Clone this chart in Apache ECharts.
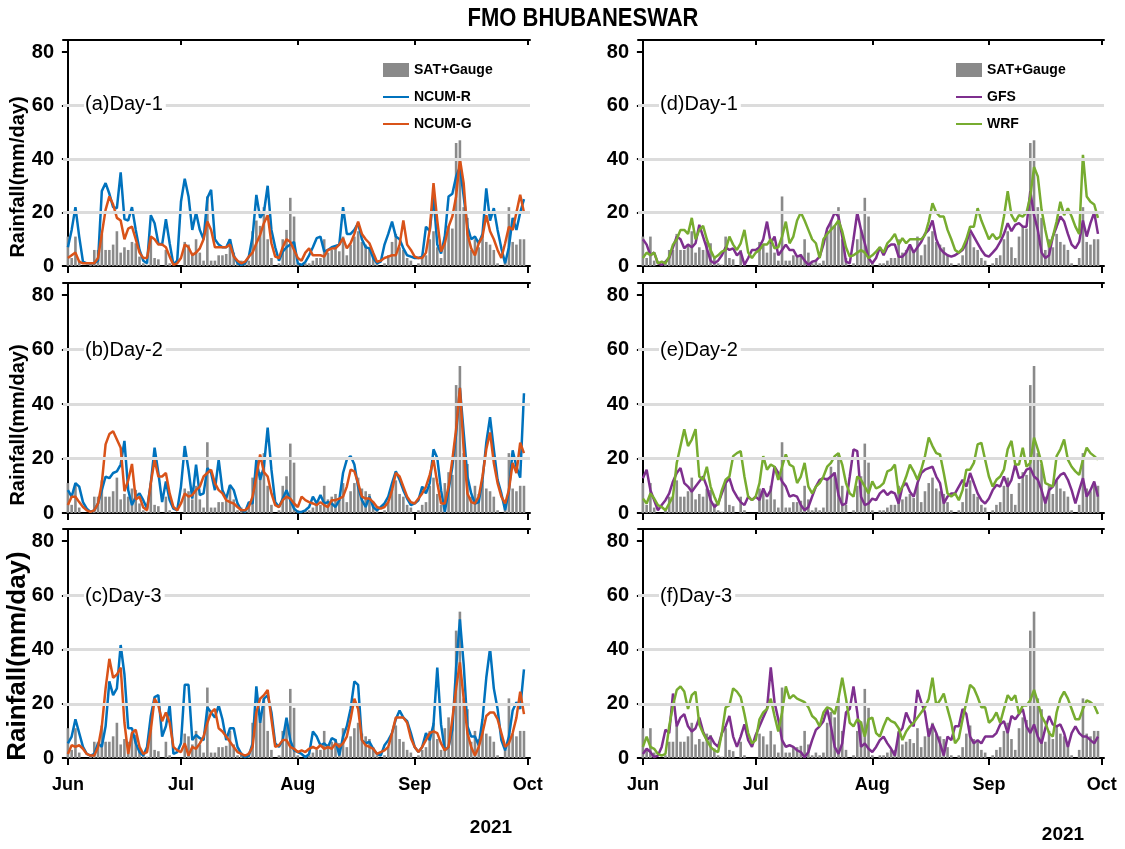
<!DOCTYPE html>
<html>
<head>
<meta charset="utf-8">
<title>FMO BHUBANESWAR</title>
<script src="https://cdn.jsdelivr.net/npm/echarts@6/dist/echarts.min.js"></script>
<style>
  html, body { margin: 0; padding: 0; background: #fff; }
  #chart { width: 1125px; height: 849px; }
</style>
</head>
<body>
<div id="chart"></div>
<script>
// Daily rainfall (mm/day), 1 Jun – 30 Sep 2021; index 0 = 1 June.
const monthTicks = [0, 30, 61, 92, 122];
const monthLabels = ['Jun', 'Jul', 'Aug', 'Sep', 'Oct'];
const yTicks = [0, 20, 40, 60, 80];
const yearLabel = '2021';

// Satellite + gauge merged observations
const obsDay1 = [11,3,11,2,0,0,1,6,6,12, 6,6,8,13,5,7,6,9,8.5,3.5, 1,0.5,11,3,2.5,0,6,1,0,0,
  0,9,8,5,10,5,2,26,2,2, 4,4,4.5,10,5,1,2,1,2,13, 17,15,22,10,3,0,1,10,13.5,25.5, 18.5,
  1,0,1,1,2,3,3,10,5, 6,7,5.5,11,4,8,11,13,9,8, 7,4,1,0,1,4,9,12,7,6, 3,2,
  0,1,3,4,10,13,7,3,11,15, 14,46,47,22,18,6,10,7,12,9, 8,6,1,0,3,22,9,8,10,10];
const obsDay23 = [11,3,11,2,0,0,1,6,6,12, 6,6,8,13,5,7,6,9,8.5,3.5, 1,0.5,11,3,2.5,0,6,1,0,0,
  0,9,8,5,10,5,2,26,2,2, 4,4,4.5,10,5,1,2,1,2,13, 17,15,22,10,3,0,1,10,13.5,25.5, 18.5,
  1,0,1,1,2,3,3,10,5, 6,7,5.5,11,4,8,11,13,9,8, 7,4,1,0,1,4,9,12,7,6, 3,2,
  0,1,3,4,10,13,7,3,11,15, 14,47,54,22,18,6,10,7,12,9, 8,6,1,0,3,22,9,8,10,10];

// NCUM-R forecasts
const ncumRDay1 = [7,13.5,22,11,1.6,1,1,1,2,28, 31,27,22,21.6,35,17.5,17,22,13.5,6,
  2,1,19,16,8.5,8,17.5,8.5,0.5,2, 24,32.6,26,13.5,20,13.5,10,25.4,28.5,10,
  8,7,7,10,4,1,0.4,1,3.5,11, 26.6,18,20,30,13.5,7,2,5.4,7,8,
  9,1,0.4,1.5,4,7,10.4,11,5.4,6, 7,7.5,8,22,12,12,13.5,16,10,7,
  6.6,3,1,1.6,8,12,16.6,11,10,6.6, 4,3.5,3,3,3.5,14.7,13,26,8,4.7,
  11,26,27,33.5,37,26,14.7,10,11,8.5, 12,29,17,21.6,13.5,6.6,1,7,18,13.5, 20,25];
const ncumRDay2 = [8.4,6,11,9.7,4,1.6,0.4,1,3.5,8.4, 13.4,12.8,14.7,15.3,17.8,26.5,8.4,2.9,6,7.2,
  4.7,1.6,11,24,14.7,4,11.6,4.7,1.6,1, 9.7,24.6,15.9,5.3,17.8,6.6,7.2,16.5,14.7,8.4,
  19.6,8.4,5.3,10.3,8.4,3.5,1,0.4,4,3.5, 19.6,12.2,17,31.4,15.9,4,2.2,5.3,8.4,4.7,
  1.6,0.4,0.4,1,2.2,6,3.5,6.6,3.5,4, 3.5,2.2,4.7,14.7,19.6,20.9,17.8,9.7,4.7,2.2,
  6,2.2,1,2.2,3.5,6,11,15.3,12.2,8.4, 5.3,2.9,3.5,4.7,9.7,7.2,11,23.4,20.2,8.4,
  0.4,8.4,17,29,46,29.6,13.4,7.2,3.5,4, 12.2,25.8,35.2,23.4,12.2,7.2,1,8,23,17, 13,44];
const ncumRDay3 = [5.4,7.9,14.3,9.2,4.1,1.5,0.9,1.5,5.4,4.1, 11.7,28.3,23.2,25.7,41.7,30.8,11,11,5.4,2.2,
  0.9,4.1,15.5,22.5,23.2,7.9,11.7,19.4,1.5,2.2, 5.4,27,27,6.6,8.5,7.3,6.6,18.7,16.8,14.9,
  19.4,14.3,6.6,11,11,4.1,1.5,0.3,0.9,5.4, 26.4,13,21.9,23.2,16.8,5.4,4.1,6.6,14.9,6.6,
  2.8,2.2,1.5,0.3,1.5,9.8,7.9,4.7,5.4,4.1, 7.3,6.6,0.9,7.9,11.7,18.1,28.3,27,6.6,5.4,
  6,3.4,1.5,0.9,4.7,6.6,9.2,14.3,17.5,14.9, 13.6,9.2,4.1,2.2,4.1,9.2,6.6,12.4,33.4,12.4,
  2.8,4.1,10.4,33.4,51.2,34.6,11.7,7.9,7.9,4.7, 14.3,29.6,40.4,25.7,18.1,6.6,2.8,7.9,17.5,20.6, 18.1,32.7];

// NCUM-G forecasts
const ncumGDay1 = [3,4,5,1.6,1,1,1,1,3,12, 21,26,23,18,17,10,14,14.7,10,5,
  3,3,11,10,8,8,7,3.5,0.4,1, 3,8,7,4,5,6.6,10,16.6,13.5,7,
  7,7,7,8,3.5,2,1,1.6,3.5,5, 8.5,11.6,16,19,8.5,3.5,3,7,10,9,
  6,3,2,5,6.6,4,4,4,3.5,6, 6.5,6.6,8,10.4,6.6,8.5,12,16.6,12,10,
  8.5,5,1.6,2,3,3.5,4,4,8,17, 8,6,3.5,3,3,5,13.5,31,17,5.4,
  8.5,14.7,18.5,26,40,31,12,6.6,4,8.5, 11,19,13,10,6,3,8.5,14.7,13.5,20, 26.6,20];
const ncumGDay2 = [2.9,6,6,4,2.2,1,0.4,1,3.5,11, 25.2,29,30,27,24,8,12,18,5,6,
  2,1,11,19.6,13.4,13.4,14.7,7.2,2.2,1, 3.5,7.2,6,6.6,8.4,9.7,13.4,14.7,15.9,11,
  8.4,7.2,4.7,4,3.5,2.2,1,1,2.2,6, 13.4,21.5,15,13.4,7.2,2.9,2.2,4.7,6,5.3,
  3.5,2.2,6,4.7,4,3.5,2.9,4,2.9,2.2, 4.7,4.7,5.3,6,9.7,15.9,15.3,11,6,5.3,
  5.3,4,2.2,1.6,2.2,4,8.4,14.7,13.4,9.7, 6,4,3.5,5.3,7.2,9.7,14,19.6,11,3.5,
  3.5,9.7,19.6,30.8,46,23.4,7.2,4,3.5,6, 13.4,23.4,29.6,18.4,11,6,3.5,8.4,18.4,14.7, 25.8,22];
const ncumGDay3 = [1.5,4.7,4.1,4.7,3.4,1.5,0.9,0.9,4.1,11.7, 25.7,36.6,29.6,30.8,33.4,13,1.5,9.2,10.4,4.1,
  1.5,2.2,10.4,21.9,19.4,13.6,16.8,13,4.1,2.8, 2.2,5.4,0.9,4.1,3.4,5.4,7.9,13,16.8,18.1,
  11,9.8,7.9,6,4.1,2.2,1.5,0.9,1.5,4.1, 16.8,21.9,23.2,25.1,14.3,4.1,4.7,6.6,6.6,4.1,
  3.4,2.2,2.8,2.2,3.4,4.1,3.4,4.7,3.4,4.1, 3.4,5.4,4.1,5.4,7.9,14.3,21.9,18.1,6.6,4.7,
  4.1,3.4,1.5,2.2,2.8,4.1,9.2,14.9,14.9,14.9, 13,7.3,4.1,2.2,4.1,6.6,9.2,9.8,9.2,5.4,
  2.8,4.1,14.3,25.7,35.3,21.9,9.2,4.1,0.9,4.1, 9.2,15.5,16.8,16.8,14.3,9.2,4.1,5.4,9.2,14.9, 24.5,16.2];

// GFS forecasts
const gfsDay1 = [10,8,4,5,1,0.4,1.6,3,7,11, 10,6.6,8,7,8.5,15.4,11,6.6,2,1,
  2,4,7,6,6.6,4,5.4,0.4,3,6, 6,7,10,16.6,8.5,11,4,6,8,6,
  6,3.5,4,2,0.4,1.6,2,3.5,8,14, 16.6,20,18.5,11,1.6,1,10,20,13.5,8.5,
  3,1,3,7,4,7,8,8,3.5,3.5, 5,8,5,7,9,12,13.5,17,10,6.6,
  5,4,3.5,4,5,6,8.5,13.5,11,8.5, 6,4,3.5,5,6.6,9,12,16,13,15.4,
  16,14.7,14.7,28,19,13.5,5,3,4,11, 14.7,18.5,16.6,12,8,6.6,9,17,11,16, 20,12];
const gfsDay2 = [12.8,15.9,8.4,4.7,1,2.9,4.7,7.2,11.6,14.7, 16.5,11,9.7,7.8,9.7,11.6,13.4,9.7,4.7,2.2,
  3.5,7.2,11,12.8,8.4,6,4,2.9,6,4.7, 6,4.7,9,6,8.4,17,14.7,11.6,9.7,6,
  6.6,6,2.9,1,2.2,6,9.7,12.2,12.8,12.2, 13.4,14.7,6.6,2.9,3.5,13.4,23.4,22.7,6,2.9,
  3.5,5.3,4.7,7.2,8.4,6.6,7.8,7.2,3.5,9.7, 11,7.8,6,11,14.7,15.9,16.5,17,13.4,11,
  3.5,6,7.2,7.2,9.7,12.2,9.7,14.7,11,7.2, 4.7,3.5,5.3,8.4,10.3,9.7,13.4,9.7,12.2,17.8,
  12.8,13.4,15.9,16.5,13.4,12.2,8.4,3.5,8.4,9.7, 12.2,14,14.7,12.2,8.4,3.5,8.4,12.8,6,8.4, 11.6,6];
const gfsDay3 = [1.5,3.4,2.2,0.3,0.9,4.1,10.4,9.2,23.8,11.7, 14.9,16.2,11.7,9.8,11,14.9,9.8,6.6,7.9,5.4,
  4.1,9.2,11.7,15.5,7.9,4.1,7.9,12.4,6.6,4.1, 8.5,11.7,14.9,18.1,33.4,20.6,14.3,6.6,4.1,4.7,
  4.1,2.8,2.2,0.3,2.2,6.6,10.4,11.7,13.6,18.1, 11.7,4.1,1.5,5.4,16.8,18.1,26.4,16.8,4.1,5.4,
  3.4,2.2,4.1,6.6,7.9,5.4,3.4,0.9,9.2,11, 16.8,13.6,11.7,25.1,20.6,16.8,7.9,12.4,9.2,5.4,
  0.9,7.9,6.6,11.7,11.7,18.1,16.2,7.9,5.4,6.6, 5.4,7.9,7.9,7.9,9.2,12.4,13.6,9.2,15.5,14.3,
  16.2,18.1,11.7,9.2,12.4,7.9,5.4,11,15.5,12.4, 11.7,12.4,9.2,4.1,9.2,11.7,9.2,7.9,7.9,6.6, 5.4,7.9];

// WRF forecasts
const wrfDay1 = [3,5,4,5,1,1.6,1,3.5,8,10, 13.5,13.5,12,18,10,13.5,15,10,6,3,
  4,5.4,6,11,8,6,8.5,13.5,5,3, 5,6,8,8,10,6.6,7,11,16.6,8.5,
  11,17,20,17,13.5,10,8.5,3,10,12, 13.5,15,17,13,7,3.5,4,5,6,5,
  3,4,5.4,7,5,8.5,10,12,8,10.4, 8.5,10,10,10,10,11.6,16.6,23.5,20,18.5,
  18.5,13.5,10,6,5,6.6,10,14.7,14.7,21.6, 17,13.5,10,12,10,11,18.5,28,19,16.6,
  19,18.5,20,26,37,33.5,21,13.5,7,11, 16.6,24,19,21.6,18.5,14.7,12,41.6,26,24, 23,18];
const wrfDay2 = [5.3,3.5,7.2,5.3,2.9,2.2,1,3.5,6,18.4, 24.6,30.8,24.6,27,30.8,13.4,12.2,17,9.7,6,
  2.9,8.4,12.2,13.4,20.9,22,22.7,13.4,6,4.7, 6,11,20.9,15.9,17.8,17,12.2,17,21.5,17.8,
  17,11,13.4,18.4,9.7,7.2,9.7,11,13.4,17, 18.4,20.9,22,17.8,11,7.2,6,13.4,12.2,9.7,
  7.2,11.6,9,9.7,11,15.3,15.9,17.8,7.2,9.7, 13.4,17.8,15.3,12.2,15.9,20.9,27.7,24.6,22,21.5,
  14.7,7.2,6,7.2,4.7,8.4,15.9,15.9,18.4,25.2, 25.8,19.6,13.4,9.7,12.2,13.4,15.9,23.4,26.5,17.8,
  17.8,24,17,18.4,27.7,23.4,18.4,11,10.3,9.7, 20.9,23.4,27,19.6,17,15.3,14,19.6,24,22, 20.9,19.6];
const wrfDay3 = [4.1,7.9,4.1,3.4,1.5,0.9,1.5,11.7,19.4,25.1, 26.4,24.5,18.1,23.2,24.5,12.4,9.2,6.6,4.1,2.8,
  2.2,9.2,18.7,19.4,25.7,24.5,22.5,16.2,9.2,5.4, 6.6,14.3,16.8,18.1,21.9,15.5,9.8,16.8,26.4,21.9,
  23.2,21.9,21.3,20.6,18.7,15.5,14.3,11.7,16.8,18.7, 18.1,16.2,21.9,29.6,21.9,13,11.7,14.3,13,7.9,
  14.3,14.9,9.2,7.9,11.7,14.9,13.6,13,11,6.6, 9.8,11.7,13,14.9,16.8,18.7,21.9,29.6,19.4,21.3,
  23.8,18.1,13,5.4,7.3,14.3,20.6,27,25.7,22.5, 18.7,18.7,13,14.3,16.8,13,18.1,23.2,21.3,23.2,
  16.2,19.4,19.4,21.3,25.1,20.6,15.5,13,9.2,7.9, 16.8,21.9,24.5,21.9,18.1,14.3,14.3,18.1,21.3,20.6, 19.4,16.2];

// ---- styling & layout ----
const COLORS = { obs: '#8a8a8a', ncumR: '#0072BD', ncumG: '#D95319', gfs: '#7E2F8E', wrf: '#77AC30' };
const SANS = '"Liberation Sans", Arial, sans-serif';

const panels = [
  { tag: '(a)Day-1', row: 0, col: 0, obs: obsDay1, lines: [['NCUM-R', ncumRDay1, COLORS.ncumR], ['NCUM-G', ncumGDay1, COLORS.ncumG]] },
  { tag: '(b)Day-2', row: 1, col: 0, obs: obsDay23, lines: [['NCUM-R', ncumRDay2, COLORS.ncumR], ['NCUM-G', ncumGDay2, COLORS.ncumG]] },
  { tag: '(c)Day-3', row: 2, col: 0, obs: obsDay23, lines: [['NCUM-R', ncumRDay3, COLORS.ncumR], ['NCUM-G', ncumGDay3, COLORS.ncumG]] },
  { tag: '(d)Day-1', row: 0, col: 1, obs: obsDay1, lines: [['GFS', gfsDay1, COLORS.gfs], ['WRF', wrfDay1, COLORS.wrf]] },
  { tag: '(e)Day-2', row: 1, col: 1, obs: obsDay23, lines: [['GFS', gfsDay2, COLORS.gfs], ['WRF', wrfDay2, COLORS.wrf]] },
  { tag: '(f)Day-3', row: 2, col: 1, obs: obsDay23, lines: [['GFS', gfsDay3, COLORS.gfs], ['WRF', wrfDay3, COLORS.wrf]] }
];

// plot boxes: the value 80 sits 12 px below the top edge of each box
const cols = [{ left: 63, width: 467 }, { left: 638, width: 466 }];
const rows = [{ top: 40, height: 226 }, { top: 283, height: 230 }, { top: 529, height: 229 }];
const Y_MAX = 84.5;

const toPairs = arr => arr.map((v, i) => [i, v]);
const GRID_GRAY = '#dcdcdc';
const BLACK_LINE = { color: '#000', width: 2 };

const grid = [], xAxis = [], yAxis = [], series = [], graphic = [];

panels.forEach((p, gi) => {
  const c = cols[p.col], r = rows[p.row];
  grid.push({ left: c.left, top: r.top, width: c.width, height: r.height, containLabel: false });

  // bottom (labelled) and top (frame) x axes
  xAxis.push({
    gridIndex: gi, type: 'value', min: -1.3, max: 122.6, position: 'bottom',
    axisLine: { show: true, onZero: false, lineStyle: BLACK_LINE },
    axisTick: { show: true, customValues: monthTicks, length: 7, lineStyle: BLACK_LINE },
    axisLabel: {
      show: p.row === 2, customValues: monthTicks, margin: 18,
      formatter: v => monthLabels[monthTicks.indexOf(v)] || '',
      color: '#000', fontFamily: SANS, fontWeight: 'bold', fontSize: 18
    },
    splitLine: { show: false }
  });
  xAxis.push({
    gridIndex: gi, type: 'value', min: -1.3, max: 122.6, position: 'top',
    axisLine: { show: true, onZero: false, lineStyle: BLACK_LINE },
    axisTick: { show: true, inside: true, customValues: monthTicks, length: 5, lineStyle: BLACK_LINE },
    axisLabel: { show: false },
    splitLine: { show: false }
  });

  // left (labelled) and right (frame) y axes
  yAxis.push({
    gridIndex: gi, type: 'value', min: 0, max: Y_MAX, position: 'left',
    axisLine: { show: true, lineStyle: BLACK_LINE },
    axisTick: { show: true, customValues: yTicks, length: 5, lineStyle: BLACK_LINE },
    axisLabel: { customValues: yTicks, color: '#000', fontFamily: SANS, fontWeight: 'bold', fontSize: 20, margin: 9 },
    splitLine: { show: false }
  });
  yAxis.push({
    gridIndex: gi, type: 'value', min: 0, max: Y_MAX, position: 'right',
    axisLine: { show: true, lineStyle: BLACK_LINE },
    axisTick: { show: true, inside: true, customValues: yTicks, length: 6, lineStyle: BLACK_LINE },
    axisLabel: { show: false },
    splitLine: { show: false }
  });

  const yIdx = gi * 2, xIdx = gi * 2;
  // light horizontal guide lines at 20, 40 and 60
  series.push({
    type: 'line', xAxisIndex: xIdx, yAxisIndex: yIdx, data: [], silent: true, z: 1,
    markLine: {
      silent: true, symbol: 'none', label: { show: false },
      lineStyle: { color: GRID_GRAY, width: 3, type: 'solid' },
      data: yTicks.filter(v => v > 0 && v < 80).map(v => ({ yAxis: v }))
    }
  });
  series.push({
    name: 'SAT+Gauge', type: 'bar', xAxisIndex: xIdx, yAxisIndex: yIdx,
    data: toPairs(p.obs), barWidth: 2.6,
    itemStyle: { color: COLORS.obs }, z: 2
  });
  p.lines.forEach(([name, data, color]) => {
    series.push({
      name, type: 'line', xAxisIndex: xIdx, yAxisIndex: yIdx,
      data: toPairs(data), symbol: 'none', showSymbol: false,
      lineStyle: { color, width: 2.5 }, itemStyle: { color }, z: 3
    });
  });

  graphic.push({
    type: 'text', x: c.left + 21, y: r.top + (p.row === 0 ? 64 : 67), z: 10,
    style: {
      text: p.tag, fill: '#000', font: '20px ' + SANS,
      textAlign: 'left', textVerticalAlign: 'middle',
      backgroundColor: '#fff', padding: [2, 3, 2, 1]
    }
  });
});

// y-axis titles on the left column
const yTitle = [
  { y: 177, size: 20 },
  { y: 425, size: 20 },
  { y: 656, size: 26 }
];
yTitle.forEach(t => {
  graphic.push({
    type: 'text', x: 18, y: t.y, rotation: Math.PI / 2,
    style: { text: 'Rainfall(mm/day)', fill: '#000', font: 'bold ' + t.size + 'px ' + SANS, textAlign: 'center', textVerticalAlign: 'middle' }
  });
});

// chart title and year captions
graphic.push({
  type: 'text', x: 583, y: 19, scaleX: 0.88,
  style: { text: 'FMO BHUBANESWAR', fill: '#000', font: 'bold 25px ' + SANS, textAlign: 'center', textVerticalAlign: 'middle' }
});
graphic.push({
  type: 'text', x: 491, y: 828,
  style: { text: yearLabel, fill: '#000', font: 'bold 19px ' + SANS, textAlign: 'center', textVerticalAlign: 'middle' }
});
graphic.push({
  type: 'text', x: 1063, y: 835,
  style: { text: yearLabel, fill: '#000', font: 'bold 19px ' + SANS, textAlign: 'center', textVerticalAlign: 'middle' }
});

const hideSymbol = { opacity: 0 };
const legendCommon = {
  orient: 'vertical', backgroundColor: '#fff', padding: [3, 5, 3, 5],
  itemWidth: 26, itemHeight: 14, itemGap: 13,
  textStyle: { color: '#000', fontFamily: SANS, fontWeight: 'bold', fontSize: 14 },
  selectedMode: false
};

const option = {
  animation: false,
  backgroundColor: '#fff',
  grid, xAxis, yAxis, series, graphic,
  legend: [
    Object.assign({ left: 377, top: 60, data: [
      { name: 'SAT+Gauge', icon: 'rect' },
      { name: 'NCUM-R', itemStyle: hideSymbol },
      { name: 'NCUM-G', itemStyle: hideSymbol }
    ] }, legendCommon),
    Object.assign({ left: 950, top: 60, data: [
      { name: 'SAT+Gauge', icon: 'rect' },
      { name: 'GFS', itemStyle: hideSymbol },
      { name: 'WRF', itemStyle: hideSymbol }
    ] }, legendCommon)
  ]
};

const chart = echarts.init(document.getElementById('chart'), null, { renderer: 'canvas' });
chart.setOption(option);
</script>
</body>
</html>
